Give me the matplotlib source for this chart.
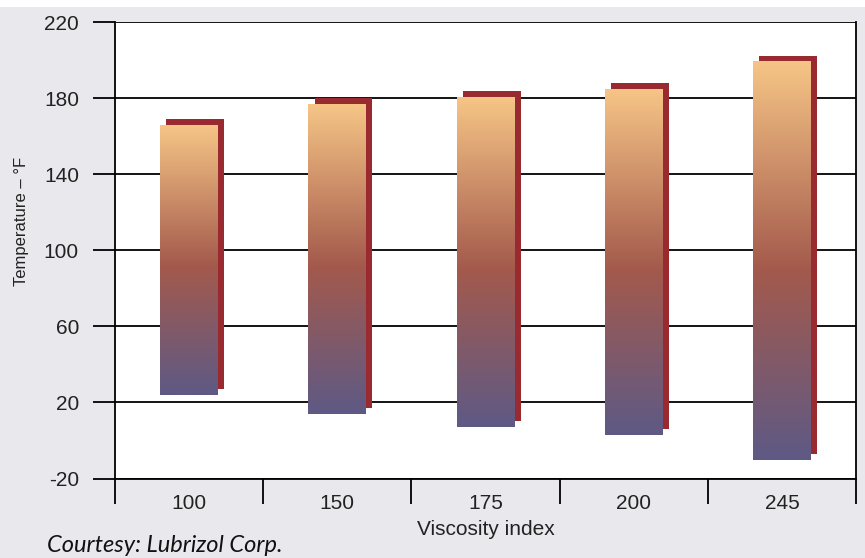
import numpy as np
import matplotlib.pyplot as plt
from matplotlib.colors import LinearSegmentedColormap
from matplotlib.patches import Rectangle

# temperature range (deg F) for each viscosity index
categories = ['100', '150', '175', '200', '245']
temp_low = [24, 14, 7, 3, -10.5]
temp_high = [166, 177, 180.5, 185, 199]
y_ticks = [-20, 20, 60, 100, 140, 180, 220]

bg = '#e9e8ed'
bar_cmap = LinearSegmentedColormap.from_list(
    'temp', [(0.0, '#5e5985'), (0.48, '#a45a4c'), (1.0, '#f6c586')])
shadow_color = '#992a30'

plt.rcParams['font.family'] = ['Liberation Sans', 'DejaVu Sans']

fig = plt.figure(figsize=(8.65, 5.58), dpi=100, facecolor=bg)
# thin white band along the top edge
fig.patches.append(Rectangle((0, 1 - 7 / 558), 1, 7 / 558, transform=fig.transFigure,
                             facecolor='white', edgecolor='none', zorder=0))

ax = fig.add_axes([115 / 865, (558 - 478.5) / 558, 741 / 865, 456.2 / 558])
ax.set_facecolor('white')

width = 0.39
dx = 0.042     # shadow shift in category units
dy = 3.3       # shadow shift in deg F

grad = np.linspace(0, 1, 256).reshape(-1, 1)
for i, (lo, hi) in enumerate(zip(temp_low, temp_high)):
    x0 = i - width / 2
    ax.add_patch(Rectangle((x0 + dx, lo + dy), width, hi - lo,
                           facecolor=shadow_color, edgecolor='none', zorder=3))
    ax.imshow(grad, cmap=bar_cmap, origin='lower', aspect='auto',
              extent=(x0, x0 + width, lo, hi), zorder=4, interpolation='bilinear')

ax.set_xlim(-0.5, 4.5)
ax.set_ylim(-20, 220)

ax.set_yticks(y_ticks)
ax.set_yticklabels([str(v) for v in y_ticks])
ax.yaxis.grid(True, color='black', lw=1.3)
ax.set_axisbelow(True)
ax.tick_params(axis='y', length=16, width=1.3, pad=10, labelsize=15,
               labelcolor='#222222')

# major ticks between groups, labels centred under each bar
ax.set_xticks(np.arange(-0.5, 5, 1))
ax.set_xticklabels([])
ax.set_xticks(range(len(categories)), minor=True)
ax.set_xticklabels(categories, minor=True)
ax.tick_params(axis='x', which='major', length=18, width=1.3)
ax.tick_params(axis='x', which='minor', length=0, pad=11, labelsize=15,
               labelcolor='#222222')

for side in ['left', 'right', 'bottom']:
    ax.spines[side].set_color('black')
    ax.spines[side].set_linewidth(1.3)
ax.spines['top'].set_visible(False)

ax.set_xlabel('Viscosity index', fontsize=15, color='#222222', labelpad=5)
fig.text(22 / 865, 1 - 221 / 558, 'Temperature \u2013 \u00b0F', rotation=90,
         ha='center', va='center', fontsize=12, color='#222222')

fig.text(47 / 865, 1 - 545 / 558, 'Courtesy: Lubrizol Corp.', family='Lato',
         style='italic', fontsize=17, ha='left', va='center', color='#111111')

fig.savefig('out.png', dpi=100, facecolor=bg)
